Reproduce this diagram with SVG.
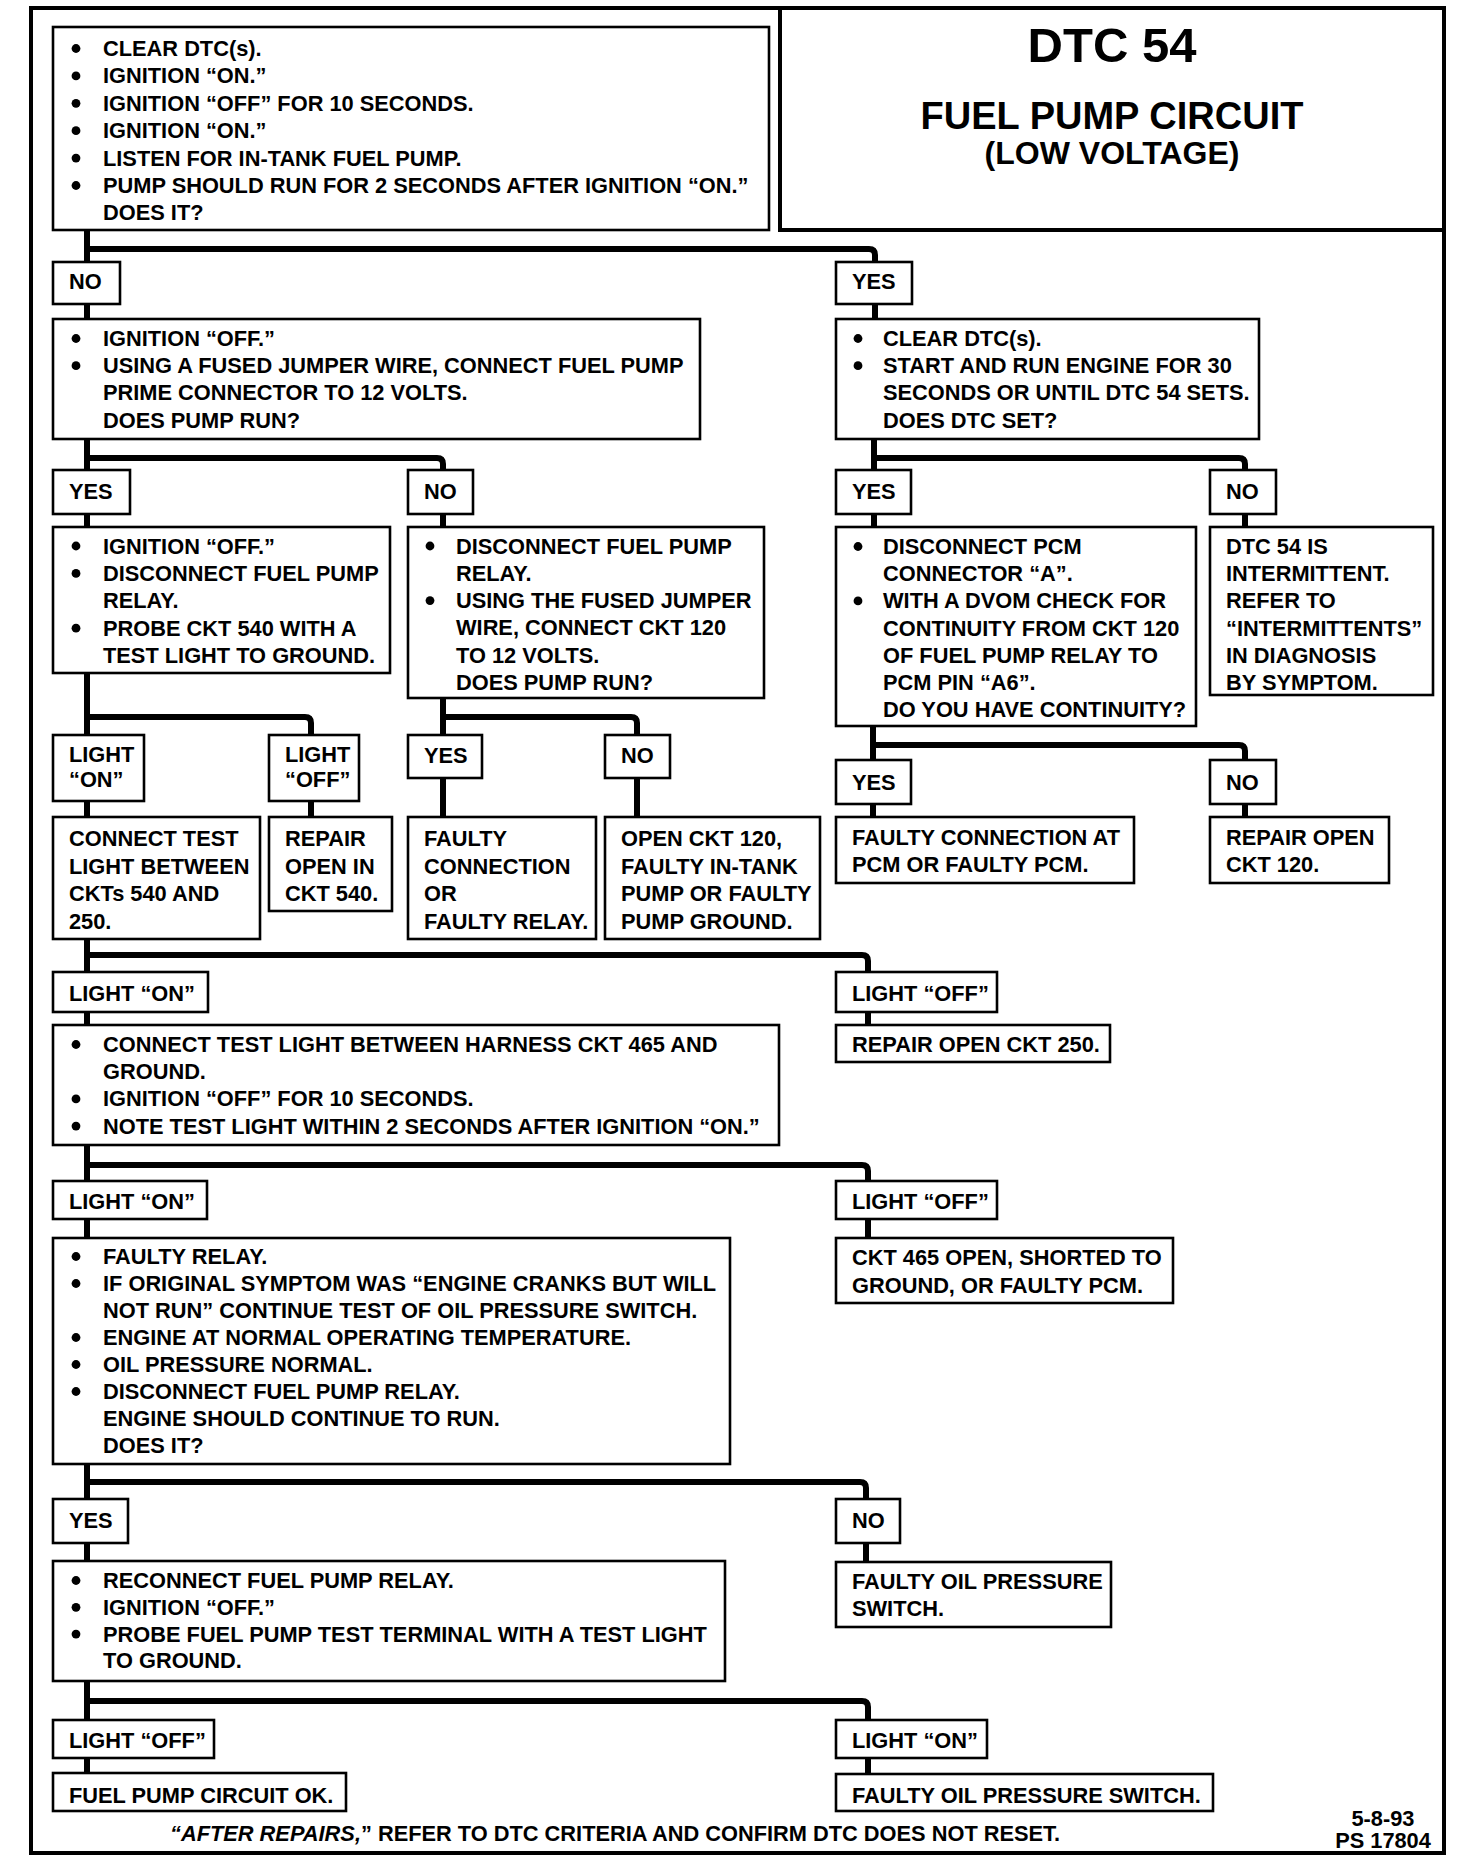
<svg xmlns="http://www.w3.org/2000/svg" width="1472" height="1866" viewBox="0 0 1472 1866">
<style>
.bg{fill:#fff}
.frame{fill:none;stroke:#000;stroke-width:4}
.box{fill:#fff;stroke:#000;stroke-width:2.6}
.c{fill:none;stroke:#000;stroke-width:6;stroke-linejoin:round;stroke-linecap:butt}
.t{font-family:"Liberation Sans",Arial,Helvetica,sans-serif;font-weight:bold;font-size:21.8px;fill:#000}
.b{fill:#000}
.h1{font-family:"Liberation Sans",Arial,Helvetica,sans-serif;font-weight:bold;fill:#000;text-anchor:middle}
</style>
<rect class="bg" x="0" y="0" width="1472" height="1866"/>
<g id="frame">
<rect class="frame" x="31" y="8" width="1413" height="1845"/>
<path class="frame" d="M780,8 V230 H1444"/>
</g>
<g id="title">
<text class="h1" x="1112" y="62" font-size="49">DTC 54</text>
<text class="h1" x="1112" y="129" font-size="38">FUEL PUMP CIRCUIT</text>
<text class="h1" x="1112" y="164" font-size="32">(LOW VOLTAGE)</text>
</g>
<g id="connectors">
<path class="c" d="M87,230 V262 M87,249 H869 Q875,249 875,255 V262"/>
<path class="c" d="M87,304 V319 M875,304 V319"/>
<path class="c" d="M87,439 V470 M87,458 H437 Q443,458 443,464 V470"/>
<path class="c" d="M874,439 V470 M874,458 H1239 Q1245,458 1245,464 V470"/>
<path class="c" d="M87,514 V527 M443,514 V527 M874,514 V527 M1245,514 V527"/>
<path class="c" d="M87,673 V735 M87,717 H305 Q311,717 311,723 V735"/>
<path class="c" d="M443,698 V735 M443,717 H631 Q637,717 637,723 V735"/>
<path class="c" d="M873,726 V760 M873,745 H1239 Q1245,745 1245,751 V760"/>
<path class="c" d="M87,801 V817 M311,801 V817 M443,778 V817 M637,778 V817 M873,804 V817 M1245,804 V817"/>
<path class="c" d="M87,939 V972 M87,955 H862 Q868,955 868,961 V972"/>
<path class="c" d="M87,1012 V1025 M868,1012 V1025"/>
<path class="c" d="M87,1145 V1181 M87,1165 H862 Q868,1165 868,1171 V1181"/>
<path class="c" d="M87,1219 V1238 M868,1219 V1238"/>
<path class="c" d="M87,1464 V1499 M87,1482 H860 Q866,1482 866,1488 V1499"/>
<path class="c" d="M87,1543 V1561 M866,1543 V1562"/>
<path class="c" d="M87,1681 V1720 M87,1701 H862 Q868,1701 868,1707 V1720"/>
<path class="c" d="M87,1758 V1773 M868,1758 V1774"/>
</g>

<g id="boxA">
<rect class="box" x="53" y="27" width="716" height="203"/>
<circle class="b" cx="76" cy="48.5" r="4.4"/><circle class="b" cx="76" cy="75.9" r="4.4"/><circle class="b" cx="76" cy="103.3" r="4.4"/><circle class="b" cx="76" cy="130.7" r="4.4"/><circle class="b" cx="76" cy="158.1" r="4.4"/><circle class="b" cx="76" cy="185.5" r="4.4"/>
<text class="t"><tspan x="103" y="56">CLEAR DTC(s).</tspan><tspan x="103" y="83.4">IGNITION “ON.”</tspan><tspan x="103" y="110.8">IGNITION “OFF” FOR 10 SECONDS.</tspan><tspan x="103" y="138.2">IGNITION “ON.”</tspan><tspan x="103" y="165.6">LISTEN FOR IN-TANK FUEL PUMP.</tspan><tspan x="103" y="193">PUMP SHOULD RUN FOR 2 SECONDS AFTER IGNITION “ON.”</tspan><tspan x="103" y="220.4">DOES IT?</tspan></text>
</g>
<g id="no1"><rect class="box" x="53" y="262" width="67" height="42"/><text class="t" x="69" y="289">NO</text></g>
<g id="yes1"><rect class="box" x="836" y="262" width="76" height="42"/><text class="t" x="852" y="289">YES</text></g>

<g id="boxB">
<rect class="box" x="53" y="319" width="647" height="120"/>
<circle class="b" cx="76" cy="338.5" r="4.4"/><circle class="b" cx="76" cy="365.7" r="4.4"/>
<text class="t"><tspan x="103" y="346">IGNITION “OFF.”</tspan><tspan x="103" y="373.2">USING A FUSED JUMPER WIRE, CONNECT FUEL PUMP</tspan><tspan x="103" y="400.4">PRIME CONNECTOR TO 12 VOLTS.</tspan><tspan x="103" y="427.6">DOES PUMP RUN?</tspan></text>
</g>
<g id="boxC">
<rect class="box" x="836" y="319" width="423" height="120"/>
<circle class="b" cx="858" cy="338.5" r="4.4"/><circle class="b" cx="858" cy="365.7" r="4.4"/>
<text class="t"><tspan x="883" y="346">CLEAR DTC(s).</tspan><tspan x="883" y="373.2">START AND RUN ENGINE FOR 30</tspan><tspan x="883" y="400.4">SECONDS OR UNTIL DTC 54 SETS.</tspan><tspan x="883" y="427.6">DOES DTC SET?</tspan></text>
</g>
<g id="yes2"><rect class="box" x="53" y="470" width="77" height="44"/><text class="t" x="69" y="499">YES</text></g>
<g id="no2"><rect class="box" x="408" y="470" width="65" height="44"/><text class="t" x="424" y="499">NO</text></g>
<g id="yes3"><rect class="box" x="836" y="470" width="75" height="44"/><text class="t" x="852" y="499">YES</text></g>
<g id="no3"><rect class="box" x="1210" y="470" width="66" height="44"/><text class="t" x="1226" y="499">NO</text></g>

<g id="boxD">
<rect class="box" x="53" y="527" width="337" height="146"/>
<circle class="b" cx="76" cy="546" r="4.4"/><circle class="b" cx="76" cy="573.4" r="4.4"/><circle class="b" cx="76" cy="628.2" r="4.4"/>
<text class="t"><tspan x="103" y="553.5">IGNITION “OFF.”</tspan><tspan x="103" y="580.9">DISCONNECT FUEL PUMP</tspan><tspan x="103" y="608.3">RELAY.</tspan><tspan x="103" y="635.7">PROBE CKT 540 WITH A</tspan><tspan x="103" y="663.1">TEST LIGHT TO GROUND.</tspan></text>
</g>
<g id="boxE">
<rect class="box" x="408" y="527" width="356" height="171"/>
<circle class="b" cx="430" cy="546" r="4.4"/><circle class="b" cx="430" cy="600.6" r="4.4"/>
<text class="t"><tspan x="456" y="553.5">DISCONNECT FUEL PUMP</tspan><tspan x="456" y="580.8">RELAY.</tspan><tspan x="456" y="608.1">USING THE FUSED JUMPER</tspan><tspan x="456" y="635.4">WIRE, CONNECT CKT 120</tspan><tspan x="456" y="662.7">TO 12 VOLTS.</tspan><tspan x="456" y="690">DOES PUMP RUN?</tspan></text>
</g>
<g id="boxF">
<rect class="box" x="836" y="527" width="360" height="199"/>
<circle class="b" cx="858" cy="546.5" r="4.4"/><circle class="b" cx="858" cy="600.9" r="4.4"/>
<text class="t"><tspan x="883" y="554">DISCONNECT PCM</tspan><tspan x="883" y="581.2">CONNECTOR “A”.</tspan><tspan x="883" y="608.4">WITH A DVOM CHECK FOR</tspan><tspan x="883" y="635.6">CONTINUITY FROM CKT 120</tspan><tspan x="883" y="662.8">OF FUEL PUMP RELAY TO</tspan><tspan x="883" y="690">PCM PIN “A6”.</tspan><tspan x="883" y="717.2">DO YOU HAVE CONTINUITY?</tspan></text>
</g>
<g id="boxG">
<rect class="box" x="1210" y="527" width="223" height="168"/>
<text class="t"><tspan x="1226" y="554">DTC 54 IS</tspan><tspan x="1226" y="581.2">INTERMITTENT.</tspan><tspan x="1226" y="608.4">REFER TO</tspan><tspan x="1226" y="635.6">“INTERMITTENTS”</tspan><tspan x="1226" y="662.8">IN DIAGNOSIS</tspan><tspan x="1226" y="690">BY SYMPTOM.</tspan></text>
</g>

<g id="lightOn0"><rect class="box" x="53" y="735" width="91" height="66"/><text class="t"><tspan x="69" y="761.5">LIGHT</tspan><tspan x="69" y="787">“ON”</tspan></text></g>
<g id="lightOff0"><rect class="box" x="269" y="735" width="90" height="66"/><text class="t"><tspan x="285" y="761.5">LIGHT</tspan><tspan x="285" y="787">“OFF”</tspan></text></g>
<g id="yes4"><rect class="box" x="408" y="735" width="74" height="43"/><text class="t" x="424" y="763">YES</text></g>
<g id="no4"><rect class="box" x="605" y="735" width="65" height="43"/><text class="t" x="621" y="763">NO</text></g>
<g id="yes5"><rect class="box" x="836" y="760" width="75" height="44"/><text class="t" x="852" y="790">YES</text></g>
<g id="no5"><rect class="box" x="1210" y="760" width="66" height="44"/><text class="t" x="1226" y="790">NO</text></g>

<g id="r1"><rect class="box" x="53" y="817" width="207" height="122"/><text class="t"><tspan x="69" y="846">CONNECT TEST</tspan><tspan x="69" y="873.6">LIGHT BETWEEN</tspan><tspan x="69" y="901.2">CKTs 540 AND</tspan><tspan x="69" y="928.8">250.</tspan></text></g>
<g id="r2"><rect class="box" x="269" y="817" width="123" height="94"/><text class="t"><tspan x="285" y="846">REPAIR</tspan><tspan x="285" y="873.6">OPEN IN</tspan><tspan x="285" y="901.2">CKT 540.</tspan></text></g>
<g id="r3"><rect class="box" x="408" y="817" width="188" height="122"/><text class="t"><tspan x="424" y="846">FAULTY</tspan><tspan x="424" y="873.6">CONNECTION</tspan><tspan x="424" y="901.2">OR</tspan><tspan x="424" y="928.8">FAULTY RELAY.</tspan></text></g>
<g id="r4"><rect class="box" x="605" y="817" width="215" height="122"/><text class="t"><tspan x="621" y="846">OPEN CKT 120,</tspan><tspan x="621" y="873.6">FAULTY IN-TANK</tspan><tspan x="621" y="901.2">PUMP OR FAULTY</tspan><tspan x="621" y="928.8">PUMP GROUND.</tspan></text></g>
<g id="r5"><rect class="box" x="836" y="817" width="298" height="66"/><text class="t"><tspan x="852" y="844.5">FAULTY CONNECTION AT</tspan><tspan x="852" y="872">PCM OR FAULTY PCM.</tspan></text></g>
<g id="r6"><rect class="box" x="1210" y="817" width="179" height="66"/><text class="t"><tspan x="1226" y="844.5">REPAIR OPEN</tspan><tspan x="1226" y="872">CKT 120.</tspan></text></g>

<g id="lightOn1"><rect class="box" x="53" y="972" width="155" height="40"/><text class="t" x="69" y="1000.5">LIGHT “ON”</text></g>
<g id="lightOff1"><rect class="box" x="836" y="972" width="161" height="40"/><text class="t" x="852" y="1000.5">LIGHT “OFF”</text></g>
<g id="boxH">
<rect class="box" x="53" y="1025" width="726" height="120"/>
<circle class="b" cx="76" cy="1044.5" r="4.4"/><circle class="b" cx="76" cy="1098.9" r="4.4"/><circle class="b" cx="76" cy="1126.1" r="4.4"/>
<text class="t"><tspan x="103" y="1052">CONNECT TEST LIGHT BETWEEN HARNESS CKT 465 AND</tspan><tspan x="103" y="1079.2">GROUND.</tspan><tspan x="103" y="1106.4">IGNITION “OFF” FOR 10 SECONDS.</tspan><tspan x="103" y="1133.6">NOTE TEST LIGHT WITHIN 2 SECONDS AFTER IGNITION “ON.”</tspan></text>
</g>
<g id="r7"><rect class="box" x="836" y="1025" width="274" height="37"/><text class="t" x="852" y="1052">REPAIR OPEN CKT 250.</text></g>

<g id="lightOn2"><rect class="box" x="53" y="1181" width="154" height="38"/><text class="t" x="69" y="1208.5">LIGHT “ON”</text></g>
<g id="lightOff2"><rect class="box" x="836" y="1181" width="161" height="38"/><text class="t" x="852" y="1209">LIGHT “OFF”</text></g>
<g id="boxI">
<rect class="box" x="53" y="1238" width="677" height="226"/>
<circle class="b" cx="76" cy="1256.5" r="4.4"/><circle class="b" cx="76" cy="1283.5" r="4.4"/><circle class="b" cx="76" cy="1337.5" r="4.4"/><circle class="b" cx="76" cy="1364.5" r="4.4"/><circle class="b" cx="76" cy="1391.5" r="4.4"/>
<text class="t"><tspan x="103" y="1264">FAULTY RELAY.</tspan><tspan x="103" y="1291">IF ORIGINAL SYMPTOM WAS “ENGINE CRANKS BUT WILL</tspan><tspan x="103" y="1318">NOT RUN” CONTINUE TEST OF OIL PRESSURE SWITCH.</tspan><tspan x="103" y="1345">ENGINE AT NORMAL OPERATING TEMPERATURE.</tspan><tspan x="103" y="1372">OIL PRESSURE NORMAL.</tspan><tspan x="103" y="1399">DISCONNECT FUEL PUMP RELAY.</tspan><tspan x="103" y="1426">ENGINE SHOULD CONTINUE TO RUN.</tspan><tspan x="103" y="1453">DOES IT?</tspan></text>
</g>
<g id="r8"><rect class="box" x="836" y="1238" width="337" height="65"/><text class="t"><tspan x="852" y="1265">CKT 465 OPEN, SHORTED TO</tspan><tspan x="852" y="1293">GROUND, OR FAULTY PCM.</tspan></text></g>

<g id="yes6"><rect class="box" x="53" y="1499" width="75" height="44"/><text class="t" x="69" y="1528">YES</text></g>
<g id="no6"><rect class="box" x="836" y="1499" width="64" height="44"/><text class="t" x="852" y="1528">NO</text></g>
<g id="boxJ">
<rect class="box" x="53" y="1561" width="672" height="120"/>
<circle class="b" cx="76" cy="1580.5" r="4.4"/><circle class="b" cx="76" cy="1607.3" r="4.4"/><circle class="b" cx="76" cy="1634.1" r="4.4"/>
<text class="t"><tspan x="103" y="1588">RECONNECT FUEL PUMP RELAY.</tspan><tspan x="103" y="1614.8">IGNITION “OFF.”</tspan><tspan x="103" y="1641.6">PROBE FUEL PUMP TEST TERMINAL WITH A TEST LIGHT</tspan><tspan x="103" y="1668.4">TO GROUND.</tspan></text>
</g>
<g id="r9"><rect class="box" x="836" y="1562" width="275" height="65"/><text class="t"><tspan x="852" y="1589">FAULTY OIL PRESSURE</tspan><tspan x="852" y="1616">SWITCH.</tspan></text></g>

<g id="lightOff3"><rect class="box" x="53" y="1720" width="161" height="38"/><text class="t" x="69" y="1748">LIGHT “OFF”</text></g>
<g id="lightOn3"><rect class="box" x="836" y="1720" width="151" height="38"/><text class="t" x="852" y="1748">LIGHT “ON”</text></g>
<g id="r10"><rect class="box" x="53" y="1773" width="293" height="38"/><text class="t" x="69" y="1803">FUEL PUMP CIRCUIT OK.</text></g>
<g id="r11"><rect class="box" x="836" y="1774" width="377" height="37"/><text class="t" x="852" y="1803">FAULTY OIL PRESSURE SWITCH.</text></g>

<g id="footer">
<text class="t" x="170" y="1841"><tspan font-style="italic">“AFTER REPAIRS,</tspan>” REFER TO DTC CRITERIA  AND CONFIRM DTC DOES NOT RESET.</text>
<text class="h1" font-size="21.8" x="1383" y="1826">5-8-93</text>
<text class="h1" font-size="21.8" x="1383" y="1848">PS 17804</text>
</g>
</svg>
